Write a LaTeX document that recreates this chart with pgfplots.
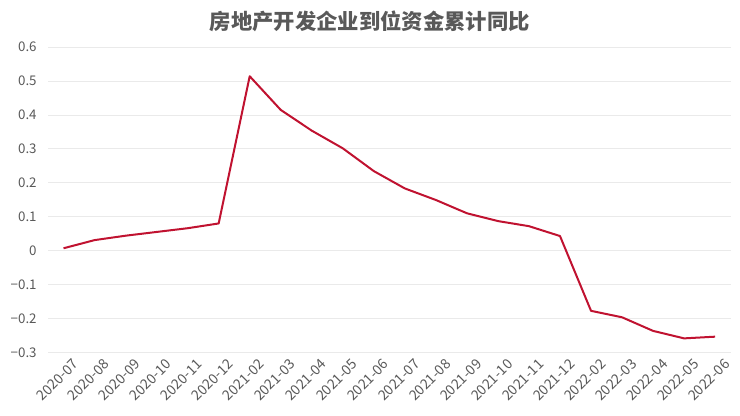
\documentclass[border=0pt]{standalone}
\usepackage{fontspec}
\setmainfont{Noto Sans CJK SC}
\usepackage{pgfplots}
\pgfplotsset{compat=1.18}
\definecolor{linered}{RGB}{192,18,48}
\definecolor{txtgray}{RGB}{89,89,89}
\definecolor{gridgray}{RGB}{234,234,234}

\begin{document}
\begin{tikzpicture}
\useasboundingbox (-36pt,-47.25pt) rectangle (519pt,264.75pt);
\begin{axis}[
  scale only axis, width=512pt, height=229.5pt,
  xmin=-0.5, xmax=21.5, ymin=-0.3, ymax=0.6,
  axis line style={draw=none},
  major tick length=0pt,
  ytick={-0.3,-0.2,-0.1,0,0.1,0.2,0.3,0.4,0.5,0.6},
  yticklabels={−0.3,−0.2,−0.1,0,0.1,0.2,0.3,0.4,0.5,0.6},
  ymajorgrids, grid style={gridgray, line width=0.75pt},
  xtick={0,...,21},
  xticklabels={2020-07,2020-08,2020-09,2020-10,2020-11,2020-12,
    2021-02,2021-03,2021-04,2021-05,2021-06,2021-07,2021-08,2021-09,2021-10,2021-11,2021-12,
    2022-02,2022-03,2022-04,2022-05,2022-06},
  x tick label style={rotate=45, anchor=north east, xshift=3pt, yshift=-6pt,
    inner sep=1pt, font=\fontsize{10.5}{11}\selectfont, text=txtgray},
  y tick label style={xshift=-5pt, font=\fontsize{10}{12}\selectfont, text=txtgray},
  clip=false,
]
\addplot[linered, line width=1.5pt, line join=round] coordinates {
  (0,0.008) (1,0.032) (2,0.045) (3,0.056) (4,0.067) (5,0.081)
  (6,0.514) (7,0.415) (8,0.354) (9,0.302) (10,0.235) (11,0.184)
  (12,0.150) (13,0.111) (14,0.088) (15,0.073) (16,0.044)
  (17,-0.176) (18,-0.195) (19,-0.235) (20,-0.257) (21,-0.252)
};
\node[font=\fontsize{16}{18}\selectfont\bfseries, text=txtgray]
  at (rel axis cs:0.4715,1) [yshift=19.5pt] {房地产开发企业到位资金累计同比};
\end{axis}
\end{tikzpicture}
\end{document}
